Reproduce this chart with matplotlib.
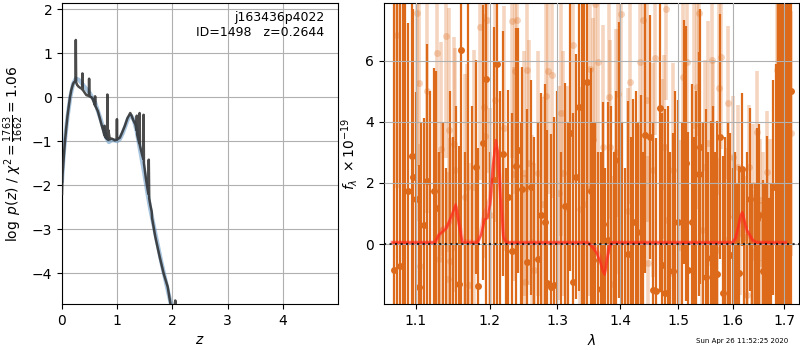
import numpy as np
import matplotlib
matplotlib.use("Agg")
import matplotlib.pyplot as plt
from matplotlib.ticker import FixedLocator, FixedFormatter, NullLocator

# ---------------- left panel: log p(z) ----------------
z_fine = [0.000, 0.010, 0.030, 0.050, 0.079, 0.100, 0.121, 0.145, 0.170, 0.195,
          0.212, 0.235, 0.246, 0.250, 0.256, 0.273, 0.300, 0.321, 0.350, 0.366,
          0.370, 0.375, 0.412, 0.440, 0.455, 0.487, 0.491, 0.496, 0.533, 0.560,
          0.594, 0.600, 0.606, 0.650, 0.685, 0.715, 0.745, 0.765, 0.770, 0.776,
          0.794, 0.805, 0.812, 0.818, 0.822, 0.826, 0.836, 0.840, 0.866, 0.897,
          0.930, 0.958, 0.990, 0.995, 1.000, 1.048, 1.090, 1.139, 1.185, 1.236,
          1.260, 1.291, 1.330, 1.350, 1.355, 1.362, 1.380, 1.400, 1.406, 1.412,
          1.430, 1.460, 1.473, 1.478, 1.484, 1.500, 1.520, 1.545, 1.565, 1.572,
          1.580, 1.600, 1.625, 1.632, 1.690, 1.770, 1.842, 1.915, 1.964, 2.000,
          2.040, 2.052, 2.058, 2.070]
logp_fine = [-2.20, -1.75, -1.40, -1.05, -0.67, -0.42, -0.22, 0.00, 0.17, 0.28,
             0.33, 0.36, 0.36, 1.30, 0.34, 0.28, 0.24, 0.22, 0.20, 0.18,
             0.54, 0.17, 0.10, 0.05, 0.04, 0.03, 0.42, 0.02, 0.00, -0.05,
             -0.18, 0.02, -0.20, -0.32, -0.48, -0.62, -0.75, -0.85, -0.65, -0.88,
             -0.92, -0.70, -0.95, -0.72, 0.06, -0.90, -0.97, -0.75, -0.96, -0.94,
             -0.96, -0.98, -0.96, -0.50, -0.96, -0.92, -0.80, -0.65, -0.48, -0.36,
             -0.42, -0.52, -0.62, -0.75, -0.42, -0.85, -0.95, -1.05, -0.36, -1.10,
             -1.20, -1.35, -1.40, -0.40, -1.50, -1.65, -1.85, -2.05, -2.20, -1.42,
             -2.30, -2.45, -2.60, -2.75, -3.17, -3.63, -4.01, -4.31, -4.69, -4.95,
             -4.75, -4.62, -4.65, -5.00]

z_smooth = [0.0, 0.03, 0.06, 0.1, 0.15, 0.2, 0.25, 0.3, 0.35, 0.4, 0.5, 0.6, 0.7,
            0.8, 0.85, 0.9, 0.95, 1.0, 1.05, 1.1, 1.15, 1.2, 1.25, 1.3, 1.35, 1.4,
            1.45, 1.5, 1.55, 1.6, 1.65, 1.7, 1.8, 1.9, 2.0]
logp_smooth = [-1.9, -1.3, -0.9, -0.45, 0.0, 0.3, 0.42, 0.40, 0.33, 0.25, 0.10,
               -0.12, -0.50, -0.92, -1.02, -0.98, -0.98, -1.00, -0.95, -0.82,
               -0.65, -0.48, -0.42, -0.52, -0.75, -1.10, -1.45, -1.80, -2.20,
               -2.55, -2.85, -3.15, -3.75, -4.30, -4.85]

z_ticks = [0, 1, 2, 3, 4]
logp_ticks = [-4, -3, -2, -1, 0, 1, 2]
root_name = "j163436p4022"
obj_id = 1498
z_best = 0.2644
chi2_num, chi2_den, chi2_red = 1763, 1662, 1.06

# ---------------- right panel: spectrum ----------------
dark_wave = [1.0713, 1.0791, 1.0900, 1.0943, 1.0965, 1.1000, 1.1045, 1.1110, 1.1150, 1.1234,
             1.1270, 1.1572, 1.1608, 1.1806, 1.1842, 1.1910, 1.1946, 1.2060, 1.2110, 1.2190,
             1.2265, 1.2325, 1.2375, 1.2410, 1.2475, 1.2540, 1.2600, 1.2700, 1.2750, 1.2810,
             1.2850, 1.2910, 1.2950, 1.3115, 1.3198, 1.3245, 1.3292, 1.3339, 1.3469, 1.3531,
             1.3557, 1.3687, 1.3719, 1.3802, 1.3990, 1.4139, 1.4220, 1.4347, 1.4428, 1.4509,
             1.4555, 1.4613, 1.4671, 1.4717, 1.4769, 1.4913, 1.4988, 1.5103, 1.5139, 1.5182,
             1.5242, 1.5364, 1.5394, 1.5503, 1.5588, 1.5708, 1.5758, 1.5818, 1.5952, 1.6118,
             1.6170, 1.6327, 1.6471, 1.6510, 1.6575, 1.6654, 1.6784, 1.6837, 1.6915, 1.6993,
             1.7148]
dark_flux = [-0.85, -0.72, 1.74, 2.88, 2.18, 1.46, -1.42, 0.61, 2.05, 1.74,
             1.17, -1.31, 6.34, 2.51, -1.37, 3.31, 5.38, 2.09, 5.88, 2.96,
             1.55, -0.22, 2.55, 3.07, 1.79, -0.58, 1.85, -0.50, 0.95, 0.73,
             -1.26, -1.39, -1.34, 1.25, 3.62, -1.23, 2.20, 4.47, 5.29, 1.74,
             -0.52, -1.48, 0.65, 0.13, 2.75, -0.31, 0.73, 0.38, 3.56, 3.50,
             -1.50, -1.53, 4.44, -0.70, -1.59, -0.87, 0.71, 3.34, 2.64, -0.85,
             0.72, 2.29, 3.18, -1.07, -0.47, -0.98, 3.51, -1.61, -0.37, -0.94,
             2.44, 1.46, 0.81, 0.94, -0.89, 0.04, 1.85, 1.87, 6.62, 5.39,
             5.01]
dark_err = [9.0, 9.0, 5.5, 5.0, 5.5, 3.5, 4.0, 3.5, 4.5, 4.0,
            4.5, 4.5, 8.5, 3.5, 4.5, 4.5, 8.0, 5.0, 8.0, 4.0,
            3.5, 4.5, 4.5, 4.0, 4.0, 5.0, 3.5, 4.5, 4.0, 4.5,
            5.0, 5.0, 5.5, 4.0, 4.5, 5.5, 4.0, 6.0, 8.0, 4.0,
            4.5, 4.5, 4.0, 4.5, 4.5, 5.0, 4.0, 4.5, 4.5, 4.0,
            5.5, 5.0, 6.0, 5.0, 6.0, 4.5, 4.0, 4.0, 4.5, 4.5,
            4.5, 4.0, 4.5, 5.5, 4.5, 5.0, 4.0, 4.5, 4.0, 3.5,
            2.5, 3.0, 3.0, 3.0, 3.0, 3.5, 3.5, 4.0, 9.0, 8.0,
            9.0]

# pixels whose flux falls outside the plotted range (only their error bars show)
off_wave = [1.0750, 1.0830, 1.0860, 1.1070, 1.1180, 1.1310, 1.1360, 1.1400, 1.1450, 1.1490,
            1.1530, 1.1660, 1.1700, 1.1750, 1.2000, 1.2150, 1.2230, 1.2450, 1.2650, 1.3000,
            1.3050, 1.3160, 1.3380, 1.3420, 1.3600, 1.3640, 1.3760, 1.3850, 1.3900, 1.3940,
            1.4040, 1.4090, 1.4180, 1.4260, 1.4300, 1.4390, 1.4820, 1.4860, 1.4950, 1.5060,
            1.5280, 1.5320, 1.5450, 1.5540, 1.5630, 1.5670, 1.5860, 1.5900, 1.6000, 1.6040,
            1.6080, 1.6220, 1.6270, 1.6370, 1.6420, 1.6610, 1.6700, 1.6740, 1.6880, 1.6950,
            1.7040, 1.7080, 1.7110]
off_flux = [9.5, -3.0, 9.5, -3.0, -3.0, -3.0, -3.0, -3.0, -3.0, -3.0,
            -3.0, -3.0, 9.5, -3.0, -3.0, -3.0, -3.0, -3.0, -3.0, -3.0,
            -3.0, -3.0, -3.0, 9.5, -3.0, -3.0, -3.0, -3.0, -3.0, -3.0,
            -3.0, -3.0, -3.0, -3.0, -3.0, -3.0, -3.0, -3.0, -3.0, -3.0,
            -3.0, -3.0, -3.0, -3.0, -3.0, -3.0, -3.0, -3.0, -3.0, -3.0,
            -3.0, -3.0, -3.0, -3.0, -3.0, -3.0, -3.0, -3.0, 9.5, -3.0,
            9.5, -3.0, 9.5]
off_err = [12.0, 12.0, 12.0, 7.0, 8.0, 6.0, 7.0, 5.5, 8.0, 6.5,
           7.5, 6.0, 12.0, 7.5, 6.0, 8.0, 5.5, 7.0, 6.5, 8.0,
           6.0, 7.0, 12.0, 12.0, 7.0, 6.0, 5.5, 7.5, 6.0, 8.0,
           7.0, 5.5, 6.5, 8.0, 7.0, 6.0, 7.5, 6.0, 8.0, 7.0,
           6.5, 8.0, 7.0, 6.0, 7.5, 6.0, 6.5, 7.0, 5.5, 6.0,
           5.0, 5.5, 6.0, 5.0, 5.0, 5.0, 4.5, 5.0, 12.0, 12.0,
           12.0, 12.0, 12.0]

light_wave = [1.0757, 1.1018, 1.1041, 1.1144, 1.1279, 1.1333, 1.1396, 1.1437, 1.1505, 1.1514,
              1.1347, 1.1450, 1.1306, 1.1054, 1.1420, 1.1662, 1.1685, 1.1784, 1.1712, 1.1865,
              1.1960, 1.1919, 1.1935, 1.2000, 1.2075, 1.2210, 1.2320, 1.2400, 1.2365, 1.2550,
              1.2345, 1.2500, 1.2575, 1.2620, 1.2700, 1.2825, 1.2860, 1.2920, 1.2790, 1.3052,
              1.3094, 1.3030, 1.3156, 1.3240, 1.3354, 1.3417, 1.3521, 1.3560, 1.3500, 1.3590,
              1.3635, 1.3719, 1.3823, 1.3844, 1.3938, 1.3965, 1.4012, 1.4133, 1.4173, 1.4335,
              1.4393, 1.4451, 1.4601, 1.4566, 1.4711, 1.4740, 1.4785, 1.4809, 1.4913, 1.5091,
              1.5152, 1.5273, 1.5333, 1.5380, 1.5485, 1.5539, 1.5606, 1.5636, 1.5745, 1.5770,
              1.5909, 1.6000, 1.6098, 1.6300, 1.6392, 1.6458, 1.6523, 1.6654, 1.6719, 1.6850,
              1.6882, 1.6930, 1.7000, 1.7131, 1.2520, 1.2650, 1.4310, 1.5030, 1.5420, 1.5697,
              1.6261, 1.6360, 1.6425, 1.6550, 1.6030, 1.6131, 1.6240, 1.5879, 1.6588, 1.4480,
              1.3885]
light_flux = [6.84, 7.56, 5.27, 5.01, 6.23, 3.12, 6.80, 3.73, 3.27, 2.42,
              0.46, -0.54, -0.50, -0.72, -1.15, 1.55, 1.87, 1.85, -1.34, 7.10,
              7.32, 4.49, 3.53, 0.95, 4.71, 3.78, 7.30, 7.34, 5.65, 5.69,
              2.29, 2.31, 2.66, 0.08, 2.31, 4.84, 5.65, 5.52, 1.31, 4.27,
              2.31, 1.66, 1.17, 6.50, 1.13, 1.31, 5.71, 3.40, 1.79, 7.86,
              5.95, 3.16, 4.81, 3.18, 3.02, 4.90, 7.52, 1.09, 5.31, 5.96,
              7.32, 4.71, 6.07, 2.42, 1.90, 3.18, 7.70, 0.78, 2.42, 5.47,
              5.96, 3.89, 5.14, 7.54, 2.53, 3.29, 6.01, 2.53, 5.09, 6.12,
              4.62, 2.85, 2.53, 2.53, 1.93, 3.67, 1.44, 2.36, 1.44, 5.69,
              4.92, 5.09, 7.32, 3.62, -1.23, -0.85, 0.40, -0.09, 0.46, -0.20,
              -1.67, -0.41, -0.22, -0.63, 0.89, 0.35, 0.24, 0.13, 1.00, -0.63,
              -1.29]
light_err = [5.0, 5.0, 4.5, 4.0, 4.5, 3.5, 4.0, 4.0, 3.5, 4.0,
             3.5, 4.0, 3.5, 4.0, 3.5, 4.0, 4.0, 4.5, 4.0, 5.0,
             5.0, 4.0, 4.0, 3.5, 4.0, 4.0, 4.5, 4.5, 4.0, 4.0,
             3.5, 4.0, 4.0, 3.5, 4.0, 4.0, 4.0, 4.0, 3.5, 4.0,
             4.0, 3.5, 4.0, 4.5, 4.0, 4.0, 4.0, 4.0, 3.5, 4.5,
             4.0, 4.0, 4.0, 3.5, 4.0, 4.0, 4.5, 4.0, 4.0, 4.0,
             4.5, 4.0, 2.5, 3.5, 3.5, 3.0, 3.0, 2.5, 3.5, 4.0,
             4.0, 4.0, 4.0, 4.0, 3.5, 4.0, 4.0, 3.5, 3.5, 3.0,
             2.5, 2.0, 2.0, 2.0, 2.0, 2.0, 2.0, 2.0, 2.0, 4.5,
             4.0, 4.0, 5.0, 4.0, 3.5, 3.5, 3.5, 3.5, 3.5, 3.0,
             2.0, 2.0, 2.0, 2.0, 2.0, 2.0, 2.0, 3.0, 2.0, 3.5,
             3.5]

model_wave = [1.070, 1.125, 1.130, 1.135, 1.140, 1.145, 1.150, 1.153, 1.157, 1.162,
              1.183, 1.188, 1.193, 1.197, 1.201, 1.205, 1.209, 1.212, 1.216, 1.220,
              1.224, 1.348, 1.355, 1.362, 1.368, 1.372, 1.375, 1.378, 1.382, 1.386,
              1.600, 1.605, 1.610, 1.615, 1.618, 1.622, 1.627, 1.632, 1.637, 1.642,
              1.648, 1.703]
model_a = [0.05, 0.05, 0.30, 0.40, 0.50, 0.80, 1.10, 1.30, 0.70, 0.05,
           0.05, 0.30, 0.80, 0.85, 1.30, 2.60, 3.40, 3.00, 1.40, 0.20,
           0.05, 0.05, -0.10, -0.30, -0.60, -0.90, -1.00, -0.60, -0.15, 0.05,
           0.05, 0.20, 0.55, 0.95, 1.05, 0.75, 0.45, 0.30, 0.15, 0.08,
           0.05, 0.05]
model_b = [0.05, 0.05, 0.25, 0.50, 0.55, 0.70, 1.00, 1.20, 0.80, 0.10,
           0.05, 0.40, 1.00, 1.20, 1.50, 2.40, 3.10, 2.80, 1.60, 0.30,
           0.05, 0.05, -0.05, -0.20, -0.45, -0.75, -0.85, -0.55, -0.10, 0.05,
           0.05, 0.15, 0.45, 0.85, 0.95, 0.70, 0.40, 0.30, 0.12, 0.06,
           0.05, 0.05]

wave_ticks = [1.1, 1.2, 1.3, 1.4, 1.5, 1.6, 1.7]
wave_tick_labels = ["1.1", "1.2", "1.3", "1.4", "1.5", "1.6", "1.7"]
flux_ticks = [0, 2, 4, 6]
timestamp = "Sun Apr 26 11:52:25 2020"

# ---------------- figure ----------------
fig = plt.figure(figsize=(8, 3.5), dpi=100)
ax1 = fig.add_axes([0.0775, 0.1314, 0.345, 0.86])
ax2 = fig.add_axes([0.48, 0.1314, 0.5185, 0.86])

ax1.plot(z_smooth, logp_smooth, color="#6e9ec8", lw=3.0, alpha=0.6, zorder=2)
ax1.plot(z_fine, logp_fine, color="#2b2b2b", lw=1.8, alpha=0.85, zorder=3)
ax1.set_xlim(0, 5.0)
ax1.set_ylim(-4.7, 2.14)
ax1.set_xticks(z_ticks)
ax1.set_yticks(logp_ticks)
ax1.grid(True)
ax1.set_xlabel(r"$z$", fontsize=10)
ax1.set_ylabel(r"$\log\ p(z)$ / $\chi^2=\frac{%d}{%d}=%.2f$" % (chi2_num, chi2_den, chi2_red),
               fontsize=10)
ax1.text(0.95, 0.975, "%s\nID=%d   z=%.4f" % (root_name, obj_id, z_best),
         transform=ax1.transAxes, ha="right", va="top", fontsize=9)
ax1.tick_params(labelsize=10)

dark_col = "#dc6a1a"
ax2.errorbar(light_wave, light_flux, yerr=light_err, fmt="o", color=dark_col,
             alpha=0.28, markersize=5, elinewidth=2.6, capsize=0, mew=0, zorder=1)
ax2.errorbar(off_wave, off_flux, yerr=off_err, fmt="none", ecolor=dark_col,
             alpha=1.0, elinewidth=1.6, capsize=0, zorder=1.5)
ax2.errorbar(dark_wave, dark_flux, yerr=dark_err, fmt="o", color=dark_col,
             alpha=1.0, markersize=5, elinewidth=1.6, capsize=0, mew=0, zorder=1.6)
ax2.plot(model_wave, model_b, color="#ff3030", lw=3.0, alpha=0.3, zorder=3)
ax2.plot(model_wave, model_a, color="#ff2a1a", lw=1.8, alpha=0.7, zorder=3.1)
ax2.axhline(0, color="black", ls=":", lw=1.5, alpha=0.8, zorder=4)

ax2.set_xscale("log")
ax2.set_xlim(1.0592, 1.7297)
ax2.set_ylim(-1.96, 7.88)
ax2.xaxis.set_major_locator(FixedLocator(wave_ticks))
ax2.xaxis.set_major_formatter(FixedFormatter(wave_tick_labels))
ax2.xaxis.set_minor_locator(NullLocator())
ax2.set_yticks(flux_ticks)
ax2.set_axisbelow(False)
ax2.grid(True, zorder=2.5)
ax2.set_xlabel(r"$\lambda$", fontsize=10)
ax2.set_ylabel(r"$f_\lambda\ \times 10^{-19}$", fontsize=10)
ax2.tick_params(labelsize=10)

fig.text(0.985, 0.027, timestamp, ha="right", va="center", fontsize=5)

fig.savefig("out.png", dpi=100)
